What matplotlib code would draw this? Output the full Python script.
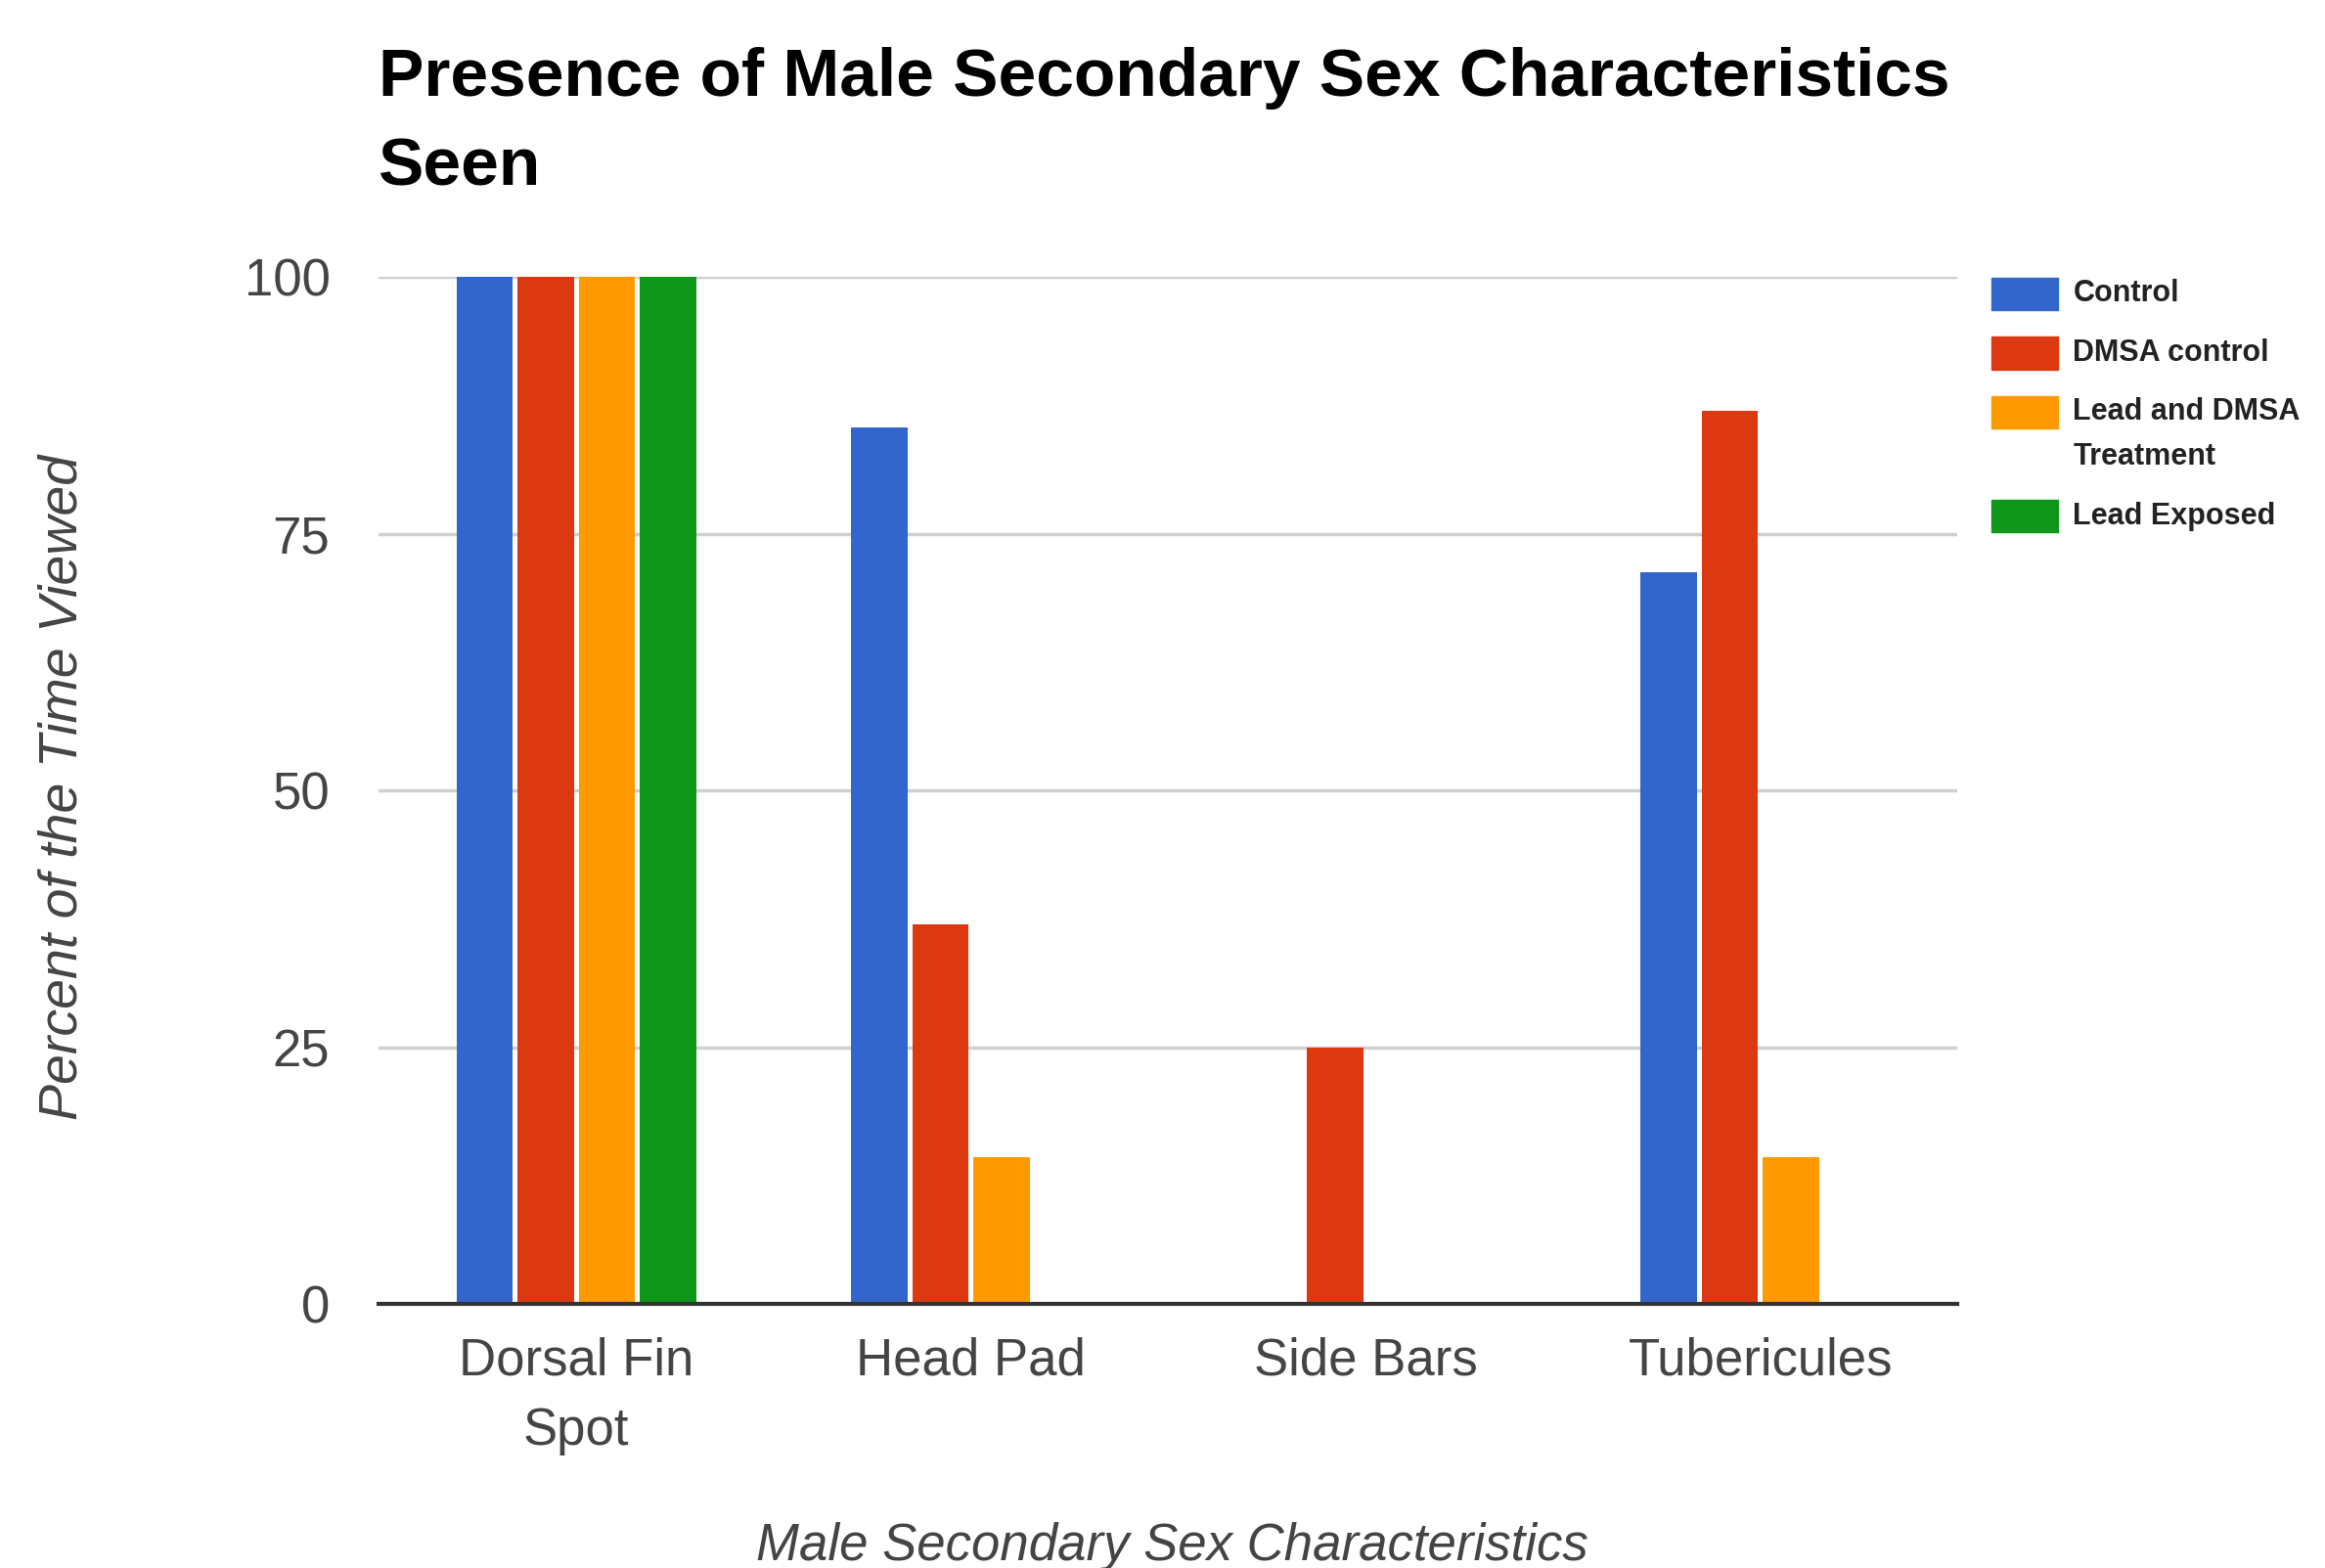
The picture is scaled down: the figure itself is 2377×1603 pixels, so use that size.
import matplotlib.pyplot as plt
from matplotlib.patches import Rectangle
import numpy as np

# categories and series
categories = ["Dorsal Fin\nSpot", "Head Pad", "Side Bars", "Tubericules"]
series_names = ["Control", "DMSA control", "Lead and DMSA\nTreatment", "Lead Exposed"]
control = [100, 85.3, 0, 71.2]
dmsa_control = [100, 37, 25, 87]
lead_dmsa = [100, 14.3, 0, 14.3]
lead_exposed = [100, 0, 0, 0]
colors = ["#3366cc", "#dc3912", "#ff9900", "#109618"]

plt.rcParams['font.family'] = ['Liberation Sans', 'DejaVu Sans']

fig = plt.figure(figsize=(23.77, 16.03), dpi=100)
ax = fig.add_axes([0.163, 0.1684, 0.679, 0.655])

x = np.arange(len(categories))
slot = 0.155
width = 0.142
for i, (vals, name) in enumerate(zip([control, dmsa_control, lead_dmsa, lead_exposed], series_names)):
    ax.bar(x + (i - 1.5) * slot, vals, width, color=colors[i], label=name, zorder=3)

ax.set_xlim(-0.5, 3.5)
ax.set_ylim(0, 100)
ax.set_yticks([0, 25, 50, 75, 100])
ax.yaxis.grid(True, color="#d0d0d0", linewidth=2.5, zorder=0)
ax.set_axisbelow(True)
for side in ["top", "right", "left"]:
    ax.spines[side].set_visible(False)
ax.spines["bottom"].set_color("#333333")
ax.spines["bottom"].set_linewidth(3)
ax.spines["bottom"].set_zorder(4)

ax.set_xticks(x)
ax.set_xticklabels(categories, linespacing=1.55)
ax.tick_params(axis="both", length=0, labelsize=38, labelcolor="#444444")
ax.tick_params(axis="y", pad=36)
ax.tick_params(axis="x", pad=24)

fig.text(0.163, 0.970, "Presence of Male Secondary Sex Characteristics\nSeen",
         fontsize=50, fontweight="bold", ha="left", va="top", linespacing=1.55)

fig.text(0.027, 0.498, "Percent of the Time Viewed", rotation=90, fontsize=40,
         style="italic", color="#444444", ha="center", va="center")
fig.text(0.504, 0.014, "Male Secondary Sex Characteristics", fontsize=38,
         style="italic", color="#444444", ha="center", va="center")

# legend drawn by hand so the swatch sits on the first line of a wrapped label
px, pw, ph = 0.8565, 0.0287, 0.0208
tx = 0.8916
y = 0.8127
for name, c in zip(series_names, colors):
    fig.patches.append(Rectangle((px, y - ph / 2), pw, ph, color=c,
                                 transform=fig.transFigure, figure=fig))
    lines = name.split("\n")
    for j, line in enumerate(lines):
        fig.text(tx, y - j * 0.0284, line, fontsize=22, fontweight="bold",
                 color="#222222", ha="left", va="center")
    y -= 0.0378 + (len(lines) - 1) * 0.0284

fig.savefig("out.png", dpi=100)
